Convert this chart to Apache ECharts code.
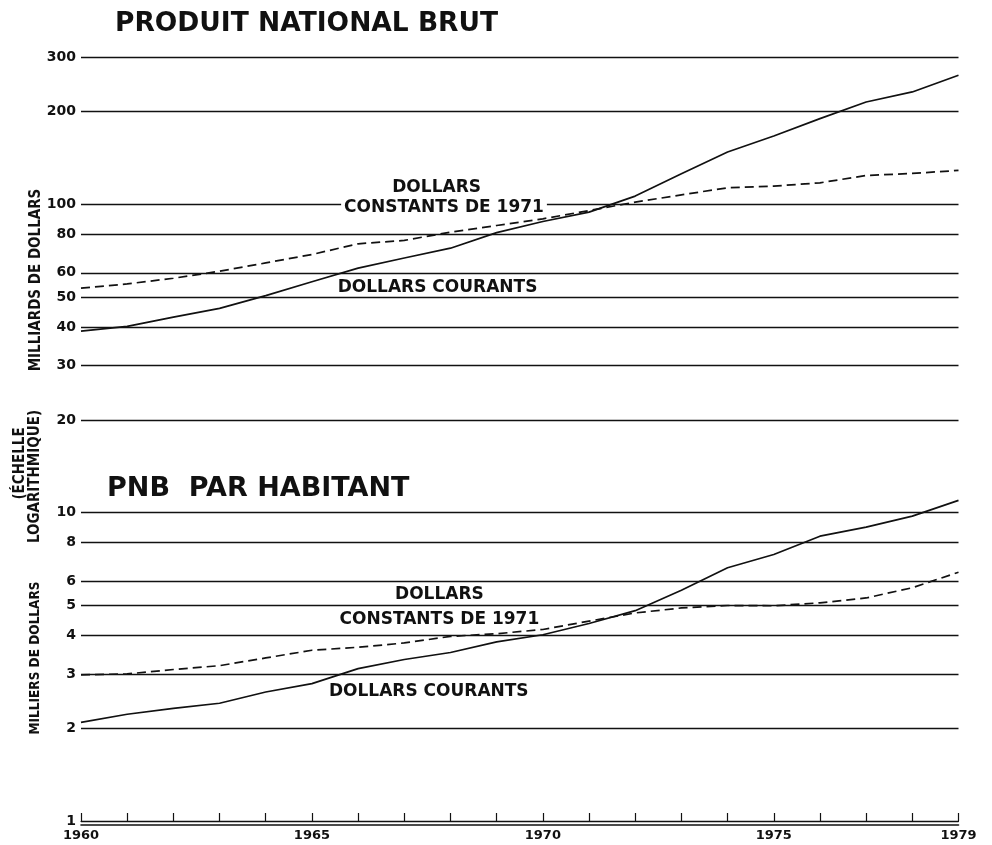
<!DOCTYPE html>
<html>
<head>
<meta charset="utf-8">
<script src="https://cdn.jsdelivr.net/npm/echarts@6/dist/echarts.min.js"></script>
<style>html,body{margin:0;padding:0;background:#fff}#chart{width:992px;height:845px}</style>
</head>
<body>
<div id="chart"></div>
<script>
// years and values (PNB in billions of dollars, per capita in thousands)
var years=[1960,1961,1962,1963,1964,1965,1966,1967,1968,1969,1970,1971,1972,1973,1974,1975,1976,1977,1978,1979];
var pnbCourants=[38.8,40.2,43.1,46.0,50.6,56.1,62.1,67.0,72.1,81.0,88.0,94.4,106.4,125.7,147.9,166.7,189.7,214.9,231.6,262.4];
var pnbConstants=[53.5,55.2,57.6,60.7,64.6,68.8,74.5,76.4,81.3,85.4,89.8,95.5,101.7,107.4,113.2,114.6,117.5,124.1,126.0,128.9];
var habCourants=[2.09,2.22,2.32,2.41,2.62,2.79,3.12,3.34,3.52,3.81,4.02,4.37,4.81,5.60,6.63,7.32,8.39,8.98,9.75,10.96];
var habConstants=[2.98,3.00,3.10,3.19,3.38,3.58,3.66,3.78,3.97,4.05,4.18,4.45,4.73,4.91,5.00,4.99,5.10,5.29,5.71,6.41];
var yTicks=[1,2,3,4,5,6,8,10,20,30,40,50,60,80,100,200,300];
var xLabels=[1960,1965,1970,1975,1979];

var ink='#111';
var FONT='"DejaVu Sans"';
var COND='"DejaVu Sans Condensed","DejaVu Sans"';

function pairs(vals){
    var out=[];
    for(var i=0;i<years.length;i++)out.push([years[i],vals[i]]);
    return out;
}
function lineSeries(vals,dashed){
    return {
        type:'line',data:pairs(vals),symbol:'none',silent:true,
        lineStyle:{color:ink,width:1.7,type:dashed?[9,5]:'solid'}
    };
}
function sideText(txt,x,y,size){
    return {type:'text',x:x,y:y,rotation:Math.PI/2,
        style:{text:txt,font:'bold '+size+'px '+COND,fill:ink,
            align:'center',verticalAlign:'middle',textAlign:'center',textVerticalAlign:'middle'}};
}

var labelStyle={show:true,position:'inside',formatter:'{b}',color:ink,
    fontFamily:FONT,fontWeight:'bold',fontSize:17};

var series=[
    lineSeries(pnbCourants,false),
    lineSeries(pnbConstants,true),
    lineSeries(habCourants,false),
    lineSeries(habConstants,true)
];
// curve names, anchored in data space
series[0].markPoint={
    symbol:'circle',symbolSize:0,silent:true,label:labelStyle,
    data:[
        {name:'DOLLARS',coord:[1967.70,113.7]},
        {name:'CONSTANTS DE 1971',coord:[1967.86,97.9],
            label:{backgroundColor:'#fff',padding:[0,3],lineHeight:15}},
        {name:'DOLLARS COURANTS',coord:[1967.72,53.8]},
        {name:'DOLLARS',coord:[1967.76,5.43]},
        {name:'CONSTANTS DE 1971',coord:[1967.76,4.50]},
        {name:'DOLLARS COURANTS',coord:[1967.53,2.63]}
    ]
};

var option={
    animation:false,
    backgroundColor:'#fff',
    title:[
        {text:'PRODUIT NATIONAL BRUT',left:115,top:11,padding:0,
            textStyle:{fontFamily:FONT,fontWeight:'bold',fontSize:26.5,color:ink}},
        {text:'PNB  PAR HABITANT',left:107,top:475,padding:0,
            textStyle:{fontFamily:FONT,fontWeight:'bold',fontSize:27,color:ink}}
    ],
    grid:{left:81,right:33.5,top:57.3,bottom:24,containLabel:false},
    xAxis:[{
        type:'value',min:1960,max:1979,interval:1,
        axisLine:{lineStyle:{color:ink,width:1.2}},
        axisTick:{inside:true,length:8,lineStyle:{color:ink,width:1.2}},
        axisLabel:{margin:8,color:ink,fontFamily:FONT,fontWeight:'bold',fontSize:13,
            formatter:function(v){return xLabels.indexOf(v)>=0?String(v):'';}},
        splitLine:{show:false}
    },{
        type:'value',min:1960,max:1979,position:'bottom',offset:4,
        axisLine:{lineStyle:{color:ink,width:1.6}},
        axisTick:{show:false},axisLabel:{show:false},splitLine:{show:false}
    }],
    yAxis:{
        type:'log',logBase:10,min:1,max:300,
        axisLine:{show:false},
        axisTick:{show:false,customValues:yTicks},
        axisLabel:{customValues:yTicks,margin:5,color:ink,fontFamily:FONT,fontWeight:'bold',fontSize:14},
        splitLine:{show:true,lineStyle:{color:ink,width:1.4}}
    },
    graphic:[
        sideText('MILLIARDS DE DOLLARS',36,280,15),
        sideText('(ÉCHELLE',20.5,463.5,15),
        sideText('LOGARITHMIQUE)',35,476.5,15),
        sideText('MILLIERS DE DOLLARS',35,658,13.5)
    ],
    series:series
};

var chart=echarts.init(document.getElementById('chart'));
chart.setOption(option);
</script>
</body>
</html>
